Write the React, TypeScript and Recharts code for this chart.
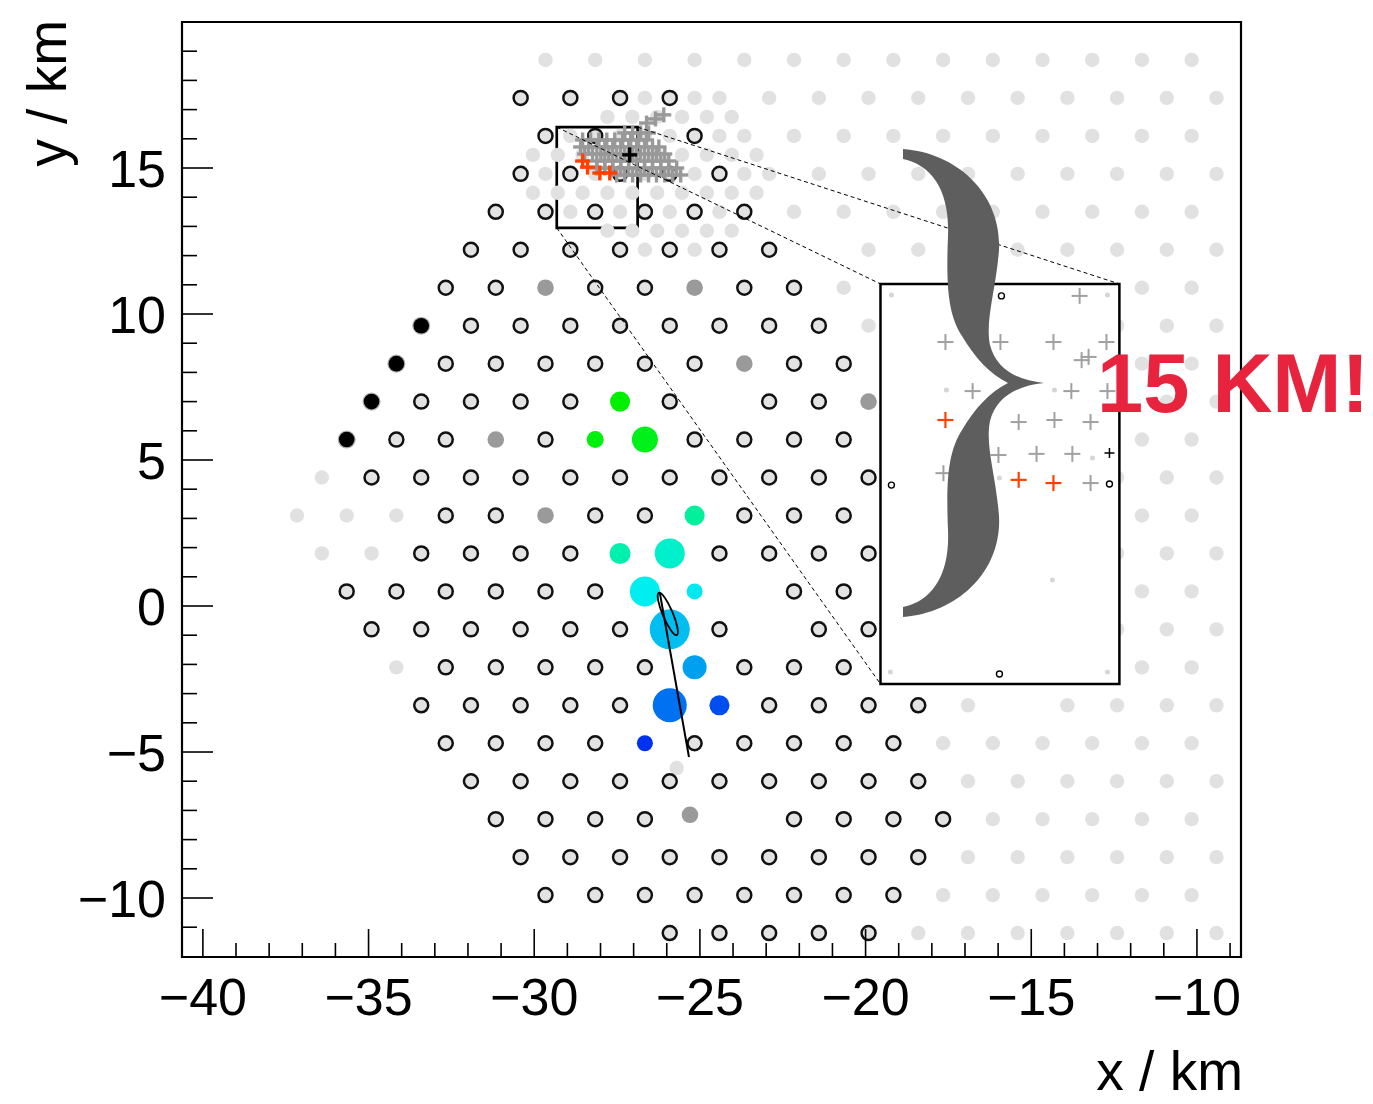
import React from 'react';
import { ScatterChart, Scatter, XAxis, YAxis, ReferenceArea } from 'recharts';

const FONT = '"Liberation Sans", Arial, Helvetica, sans-serif';
const WIDTH = 1373;
const HEIGHT = 1104;
const X_DOMAIN: [number, number] = [-40.63, -8.67];
const Y_DOMAIN: [number, number] = [-12.02, 20];
const MARGIN = { top: 22, right: 132, bottom: 0, left: 0 };

// tick positions (km)
const xTicks = [-40, -39, -38, -37, -36, -35, -34, -33, -32, -31, -30, -29, -28, -27, -26, -25, -24, -23, -22, -21, -20, -19, -18, -17, -16, -15, -14, -13, -12, -11, -10, -9];
const yTicks = [-11, -10, -9, -8, -7, -6, -5, -4, -3, -2, -1, 0, 1, 2, 3, 4, 5, 6, 7, 8, 9, 10, 11, 12, 13, 14, 15, 16, 17, 18, 19];

// detector rows: [y, x positions] in km
// stations not taking part in the event (light gray, no outline)
const lightRows: [number, number[]][] = [
  [18.7, [-29.66, -28.16, -26.66, -25.16, -23.66, -22.16, -20.66, -19.16, -17.66, -16.16, -14.66, -13.16, -11.66, -10.16]],
  [17.4, [-26.66, -25.16, -24.41, -22.91, -21.41, -19.91, -18.41, -16.91, -15.41, -13.91, -12.41, -10.91, -9.41]],
  [16.75, [-27.79, -27.04, -26.29, -25.54, -24.79, -24.04]],
  [16.1, [-28.91, -27.41, -26.66, -25.91, -24.41, -23.66, -22.16, -20.66, -19.16, -17.66, -16.16, -14.66, -13.16, -11.66, -10.16]],
  [15.45, [-30.04, -29.29, -28.54, -27.79, -27.04, -26.29, -25.54, -24.79, -24.04, -23.29]],
  [14.8, [-29.66, -28.16, -26.66, -25.16, -23.66, -22.91, -21.41, -19.91, -18.41, -16.91, -15.41, -13.91, -12.41, -10.91, -9.41]],
  [14.15, [-30.04, -29.29, -28.54, -27.79, -27.04, -26.29, -25.54, -24.79, -24.04, -23.29]],
  [13.5, [-28.91, -27.41, -25.91, -24.41, -22.16, -20.66, -19.16, -17.66, -16.16, -14.66, -13.16, -11.66, -10.16]],
  [12.85, [-27.79, -27.04, -26.29, -25.54, -24.79, -24.04]],
  [12.2, [-26.66, -25.16, -19.91, -18.41, -16.91, -15.41, -13.91, -12.41, -10.91, -9.41]],
  [10.9, [-20.66, -11.66, -10.16]],
  [9.6, [-19.91, -12.41, -10.91, -9.41]],
  [8.3, [-11.66, -10.16]],
  [7.0, [-12.41, -10.91, -9.41]],
  [5.7, [-11.66, -10.16]],
  [4.4, [-36.41, -12.41, -10.91, -9.41]],
  [3.1, [-37.16, -35.66, -34.16, -11.66, -10.16]],
  [1.8, [-36.41, -34.91, -12.41, -10.91, -9.41]],
  [0.5, [-11.66, -10.16]],
  [-0.8, [-12.41, -10.91, -9.41]],
  [-2.1, [-34.16, -11.66, -10.16]],
  [-3.4, [-16.91, -13.91, -12.41, -10.91, -9.41]],
  [-4.7, [-17.66, -16.16, -14.66, -13.16, -11.66, -10.16]],
  [-5.55, [-25.7]],
  [-6.0, [-16.91, -15.41, -13.91, -12.41, -10.91, -9.41]],
  [-7.3, [-16.16, -14.66, -13.16, -11.66, -10.16]],
  [-8.6, [-16.91, -15.41, -13.91, -12.41, -10.91, -9.41]],
  [-9.9, [-17.66, -16.16, -14.66, -13.16, -11.66, -10.16]],
  [-11.2, [-18.41, -16.91, -15.41, -13.91, -12.41, -10.91, -9.41]],
];

// active stations without signal (outlined)
const ringRows: [number, number[]][] = [
  [17.4, [-30.41, -28.91, -27.41, -25.91]],
  [16.1, [-29.66, -28.16, -25.16]],
  [14.8, [-30.41, -28.91, -27.41, -25.91, -24.41]],
  [13.5, [-31.16, -29.66, -28.16, -26.66, -25.16, -23.66]],
  [12.2, [-31.91, -30.41, -28.91, -27.41, -25.91, -24.41, -22.91]],
  [10.9, [-32.67, -31.16, -28.16, -26.66, -23.66, -22.16]],
  [9.6, [-31.91, -30.41, -28.91, -27.41, -25.91, -24.41, -22.91, -21.41]],
  [8.3, [-32.67, -31.16, -29.66, -28.16, -26.66, -25.16, -22.16, -20.66]],
  [7.0, [-33.41, -31.91, -30.41, -28.91, -25.91, -22.91, -21.41]],
  [5.7, [-34.16, -32.67, -29.66, -25.16, -23.66, -22.16, -20.66]],
  [4.4, [-34.91, -33.41, -31.91, -30.41, -28.91, -27.41, -25.91, -24.41, -22.91, -21.41, -19.91]],
  [3.1, [-32.67, -31.16, -28.16, -26.66, -23.66, -22.16, -20.66]],
  [1.8, [-33.41, -31.91, -30.41, -28.91, -24.41, -22.91, -21.41, -19.91]],
  [0.5, [-35.66, -34.16, -32.67, -31.16, -29.66, -28.16, -22.16, -20.66]],
  [-0.8, [-34.91, -33.41, -31.91, -30.41, -28.91, -27.41, -24.41, -21.41, -19.91]],
  [-2.1, [-32.67, -31.16, -29.66, -28.16, -26.66, -23.66, -22.16, -20.66]],
  [-3.4, [-33.41, -31.91, -30.41, -28.91, -27.41, -22.91, -21.41, -19.91, -18.41]],
  [-4.7, [-32.67, -31.16, -29.66, -28.16, -25.16, -23.66, -22.16, -20.66, -19.16]],
  [-6.0, [-31.91, -30.41, -28.91, -27.41, -25.91, -24.41, -22.91, -21.41, -19.91, -18.41]],
  [-7.3, [-31.16, -29.66, -28.16, -26.66, -22.16, -20.66, -19.16, -17.66]],
  [-8.6, [-30.41, -28.91, -27.41, -25.91, -24.41, -22.91, -21.41, -19.91, -18.41]],
  [-9.9, [-29.66, -28.16, -26.66, -25.16, -23.66, -22.16, -20.66, -19.16]],
  [-11.2, [-25.91, -24.41, -22.91, -21.41, -19.91]],
];

// [x, y]
const grayStations: [number, number][] = [
  [-29.66, 10.9], [-25.16, 10.9], [-23.66, 8.3], [-19.91, 7.0], [-31.16, 5.7], [-29.66, 3.1], [-25.3, -7.15],
];
const saturatedStations: [number, number][] = [
  [-33.41, 9.6], [-34.16, 8.3], [-34.91, 7.0], [-35.66, 5.7],
];

// [x, y, signal, relative time 0..1]
const hitStations: [number, number, number, number][] = [
  [-27.41, 7.0, 6.3, 0.0],
  [-28.16, 5.7, 4.5, 0.03],
  [-26.66, 5.7, 10.6, 0.06],
  [-25.16, 3.1, 6.3, 0.36],
  [-27.41, 1.8, 6.9, 0.4],
  [-25.91, 1.8, 14.1, 0.47],
  [-26.66, 0.5, 14.1, 0.56],
  [-25.16, 0.5, 4.0, 0.57],
  [-25.91, -0.8, 25.0, 0.67],
  [-25.16, -2.1, 9.0, 0.74],
  [-25.91, -3.4, 18.1, 0.85],
  [-24.41, -3.4, 6.3, 0.93],
  [-26.66, -4.7, 4.0, 1.0],
];

const showerAxis: [number, number][] = [[-26.21, 0.45], [-25.33, -5.17]];
const showerCore: [number, number][] = [[-25.97, -0.27]];

// reconstructed cores near the top: rows [y, x list]
const coreRows: [number, number[]][] = [
  [16.82, [-26.09]],
  [16.68, [-26.34]],
  [16.54, [-26.61]],
  [16.2, [-27.27, -27.03, -26.79, -26.55]],
  [15.96, [-28.54, -28.3, -28.05, -27.81, -27.57, -27.33, -27.09, -26.85, -26.61]],
  [15.72, [-28.6, -28.36, -28.11, -27.87, -27.63, -27.39, -27.15, -26.91, -26.67, -26.43, -26.24]],
  [15.48, [-28.48, -28.24, -27.99, -27.75, -27.51, -27.27, -27.03, -26.79, -26.55, -26.31, -26.06]],
  [15.24, [-28.11, -27.87, -27.63, -27.39, -27.15, -26.91, -26.67, -26.43, -26.18, -25.94]],
  [15.0, [-28.11, -27.87, -27.63, -27.39, -27.15, -26.91, -26.67, -26.43, -26.18, -25.94, -25.7]],
  [14.76, [-27.51, -27.27, -27.03, -26.79, -26.55, -26.31, -26.06, -25.82, -25.58]],
];
const redCores: [number, number][] = [[-28.54, 15.24], [-28.39, 15.03], [-28.02, 14.83], [-27.72, 14.83]];
const bestCore: [number, number][] = [[-27.12, 15.45]];

// zoom box and inset
const zoomBoxX: [number, number] = [-29.32, -26.88];
const zoomBoxY: [number, number] = [12.95, 16.4];
const insetX: [number, number] = [-19.55, -12.34];
const insetY: [number, number] = [-2.67, 11.03];
const zoomLineA: [number, number][] = [[-29.32, 16.4], [-19.55, 11.03]];
const zoomLineB: [number, number][] = [[-26.88, 16.4], [-12.34, 11.03]];
const zoomLineC: [number, number][] = [[-29.32, 12.95], [-19.55, -2.67]];

// inset content, already placed in plot coordinates
const insetGrayCores: [number, number][] = [
  [-13.54, 10.62], [-17.59, 9.04], [-15.93, 9.04], [-14.33, 9.04], [-12.73, 9.04], [-13.48, 8.42], [-13.27, 8.53],
  [-16.77, 7.36], [-13.79, 7.36], [-12.7, 7.36], [-15.38, 6.3], [-14.3, 6.37], [-13.21, 6.3],
  [-15.99, 5.17], [-14.84, 5.21], [-13.76, 5.21], [-17.65, 4.55], [-13.21, 4.21],
];
const insetRedCores: [number, number][] = [[-17.59, 6.37], [-15.38, 4.32], [-14.33, 4.21]];
const insetBestCore: [number, number][] = [[-12.64, 5.24]];
const insetStations: [number, number][] = [[-15.9, 10.62], [-19.22, 4.14], [-12.64, 4.18], [-15.96, -2.33]];
const insetDim: [number, number][] = [
  [-19.22, 10.65], [-12.7, 10.65], [-17.56, 7.4], [-14.3, 7.4], [-13.15, 5.07], [-15.96, 4.38], [-14.36, 0.89], [-19.25, -2.26], [-12.7, -2.26],
];

const rowsToPoints = (rows: [number, number[]][]) => rows.flatMap(([y, xs]) => xs.map((x) => ({ x, y })));
const pairsToPoints = (pairs: [number, number][]) => pairs.map(([x, y]) => ({ x, y }));

const lightData = rowsToPoints(lightRows);
const ringData = rowsToPoints(ringRows);
const coreData = rowsToPoints(coreRows);
const hitData = hitStations.map(([x, y, s, t]) => ({ x, y, s, t }));

const fmt = (v: number) => (v < 0 ? '\u2212' + Math.abs(v) : String(v));

const XTick = (props: any) => {
  const { x, y, payload } = props;
  const v = payload.value;
  const major = v % 5 === 0;
  return (
    <g>
      <line x1={x} x2={x} y1={y} y2={y - (major ? 28 : 14)} stroke="#000" strokeWidth={1.6} />
      {major && (
        <text x={x} y={y + 58} textAnchor="middle" fontSize={52} fontFamily={FONT} fill="#000">
          {fmt(v)}
        </text>
      )}
    </g>
  );
};

const YTick = (props: any) => {
  const { x, y, payload } = props;
  const v = payload.value;
  const major = v % 5 === 0;
  return (
    <g>
      <line x1={x} x2={x + (major ? 31 : 15)} y1={y} y2={y} stroke="#000" strokeWidth={1.6} />
      {major && (
        <text x={x - 16} y={y} dy="0.36em" textAnchor="end" fontSize={52} fontFamily={FONT} fill="#000">
          {fmt(v)}
        </text>
      )}
    </g>
  );
};

const NoDot = () => <g />;
const LightDot = (p: any) => <circle cx={p.cx} cy={p.cy} r={7.2} fill="#e1e1e1" />;
const RingDot = (p: any) => <circle cx={p.cx} cy={p.cy} r={7} fill="#e3e3e3" stroke="#111" strokeWidth={2.5} />;
const GrayDot = (p: any) => <circle cx={p.cx} cy={p.cy} r={8.3} fill="#9a9a9a" />;
const BlackDot = (p: any) => <circle cx={p.cx} cy={p.cy} r={7.8} fill="#000" stroke="rgba(0,0,0,0.3)" strokeWidth={2.5} />;
const HitDot = (p: any) => {
  const { s, t } = p.payload;
  return <circle cx={p.cx} cy={p.cy} r={4 * Math.sqrt(s)} fill={`hsl(${120 + 108 * t}, 100%, 47%)`} />;
};
const CoreEllipse = (p: any) => (
  <ellipse cx={p.cx} cy={p.cy} rx={23} ry={5} transform={`rotate(67 ${p.cx} ${p.cy})`} fill="none" stroke="#000" strokeWidth={1.8} />
);
const plus = (half: number, width: number, color: string) => (p: any) => (
  <g stroke={color} strokeWidth={width}>
    <line x1={p.cx - half} x2={p.cx + half} y1={p.cy} y2={p.cy} />
    <line x1={p.cx} x2={p.cx} y1={p.cy - half} y2={p.cy + half} />
  </g>
);
const SmallRing = (p: any) => <circle cx={p.cx} cy={p.cy} r={3} fill="#fff" stroke="#000" strokeWidth={1.4} />;
const DimDot = (p: any) => <circle cx={p.cx} cy={p.cy} r={2.5} fill="#d6d6d6" />;

const dashed = { stroke: '#000', strokeWidth: 1, strokeDasharray: '4 3' };

const axes = (visible: boolean) => [
  <XAxis
    key="x"
    type="number"
    dataKey="x"
    domain={X_DOMAIN}
    allowDataOverflow
    ticks={visible ? xTicks : []}
    interval={0}
    height={147}
    tickSize={0}
    tickMargin={0}
    tickLine={false}
    axisLine={false}
    tick={visible ? (p: any) => <XTick {...p} /> : false}
  />,
  <YAxis
    key="y"
    type="number"
    dataKey="y"
    domain={Y_DOMAIN}
    allowDataOverflow
    ticks={visible ? yTicks : []}
    interval={0}
    width={182}
    tickSize={0}
    tickMargin={0}
    tickLine={false}
    axisLine={false}
    tick={visible ? (p: any) => <YTick {...p} /> : false}
  />,
];

const bracePath =
  'M 903 149 C 958 153, 1002 195, 999 250 C 996 290, 985 320, 990 345 C 996 368, 1015 380, 1044 383 ' +
  'C 1015 386, 996 398, 990 421 C 985 446, 996 476, 999 516 C 1002 571, 958 613, 903 617 L 903 607 ' +
  'C 932 601, 950 575, 948 530 C 946 480, 948 452, 962 430 C 975 408, 990 392, 1008 383 ' +
  'C 990 374, 975 358, 962 336 C 948 314, 946 286, 948 236 C 950 191, 932 165, 903 159 Z';

export default function App() {
  return (
    <div style={{ position: 'relative', width: WIDTH, height: HEIGHT, margin: -8, background: '#fff' }}>
      <div style={{ position: 'absolute', left: 0, top: 0 }}>
        <ScatterChart width={WIDTH} height={HEIGHT} margin={MARGIN}>
          {axes(true)}
          <Scatter data={lightData} shape={LightDot} isAnimationActive={false} />
          <Scatter data={ringData} shape={RingDot} isAnimationActive={false} />
          <Scatter data={pairsToPoints(grayStations)} shape={GrayDot} isAnimationActive={false} />
          <Scatter data={pairsToPoints(saturatedStations)} shape={BlackDot} isAnimationActive={false} />
          <Scatter data={hitData} shape={HitDot} isAnimationActive={false} />
          <Scatter data={pairsToPoints(showerAxis)} line={{ stroke: '#000', strokeWidth: 2 }} shape={NoDot} isAnimationActive={false} />
          <Scatter data={pairsToPoints(showerCore)} shape={CoreEllipse} isAnimationActive={false} />
          <ReferenceArea x1={zoomBoxX[0]} x2={zoomBoxX[1]} y1={zoomBoxY[0]} y2={zoomBoxY[1]} fill="none" stroke="#000" strokeWidth={2.7} ifOverflow="visible" />
          <Scatter data={coreData} shape={plus(7.5, 3.4, '#999')} isAnimationActive={false} />
          <Scatter data={pairsToPoints(redCores)} shape={plus(7.5, 3.4, '#ff4000')} isAnimationActive={false} />
          <Scatter data={pairsToPoints(bestCore)} shape={plus(7.5, 3.4, '#000')} isAnimationActive={false} />
          <Scatter data={pairsToPoints(zoomLineA)} line={dashed} shape={NoDot} isAnimationActive={false} />
          <Scatter data={pairsToPoints(zoomLineB)} line={dashed} shape={NoDot} isAnimationActive={false} />
          <Scatter data={pairsToPoints(zoomLineC)} line={dashed} shape={NoDot} isAnimationActive={false} />
          <ReferenceArea x1={X_DOMAIN[0]} x2={X_DOMAIN[1]} y1={Y_DOMAIN[0]} y2={Y_DOMAIN[1]} fill="none" stroke="#000" strokeWidth={2.2} ifOverflow="visible" />
        </ScatterChart>
      </div>
      <div style={{ position: 'absolute', left: 0, top: 0, pointerEvents: 'none' }}>
        <ScatterChart width={WIDTH} height={HEIGHT} margin={MARGIN}>
          {axes(false)}
          <ReferenceArea x1={insetX[0]} x2={insetX[1]} y1={insetY[0]} y2={insetY[1]} fill="#fff" fillOpacity={1} stroke="#000" strokeWidth={2.5} ifOverflow="visible" />
          <Scatter data={pairsToPoints(insetDim)} shape={DimDot} isAnimationActive={false} />
          <Scatter data={pairsToPoints(insetStations)} shape={SmallRing} isAnimationActive={false} />
          <Scatter data={pairsToPoints(insetGrayCores)} shape={plus(8, 2, '#a0a0a0')} isAnimationActive={false} />
          <Scatter data={pairsToPoints(insetRedCores)} shape={plus(8, 2.2, '#ff4000')} isAnimationActive={false} />
          <Scatter data={pairsToPoints(insetBestCore)} shape={plus(5, 1.5, '#000')} isAnimationActive={false} />
        </ScatterChart>
      </div>
      <svg width={WIDTH} height={HEIGHT} style={{ position: 'absolute', left: 0, top: 0, pointerEvents: 'none' }}>
        <path d={bracePath} fill="#5e5e5e" />
        <text x={1097} y={412} fontSize={83} fontWeight="bold" fontFamily={FONT} fill="#e8233e">
          15 KM!
        </text>
        <text x={1243} y={1090} textAnchor="end" fontSize={55} fontFamily={FONT} fill="#000">
          x / km
        </text>
        <text x={66} y={20} textAnchor="end" fontSize={55} fontFamily={FONT} fill="#000" transform="rotate(-90 66 20)">
          y / km
        </text>
      </svg>
    </div>
  );
}
